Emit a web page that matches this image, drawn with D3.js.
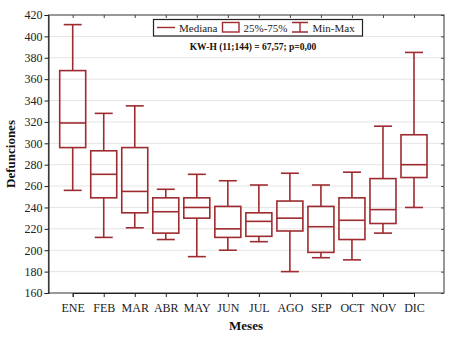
<!DOCTYPE html>
<html>
<head>
<meta charset="utf-8">
<script src="https://cdn.jsdelivr.net/npm/d3@7"></script>
<style>
  body { margin: 0; background: #fff; }
  svg, svg text { font-family: "Liberation Serif", "DejaVu Serif", serif; }
</style>
</head>
<body>
<div id="chart"></div>
<script>
const months = ['ENE', 'FEB', 'MAR', 'ABR', 'MAY', 'JUN', 'JUL', 'AGO', 'SEP', 'OCT', 'NOV', 'DIC'];
const minVals = [256, 212, 221, 210, 194, 200, 208, 180, 193, 191, 216, 240];
const q1Vals = [296, 249, 235, 216, 230, 212, 213, 218, 198, 210, 225, 268];
const medVals = [319, 271, 255, 236, 240, 220, 227, 230, 222, 228, 238, 280];
const q3Vals = [368, 293, 296, 249, 249, 241, 235, 246, 241, 249, 267, 308];
const maxVals = [411, 328, 335, 257, 271, 265, 261, 272, 261, 273, 316, 385];
const yTicks = d3.range(160, 421, 20);

const width = 450;
const height = 337;
const margin = { top: 15, right: 6, bottom: 44, left: 48.5 };
const red = '#9e2b2f';
const serif = '"Liberation Serif", "DejaVu Serif", serif';

const data = months.map((m, i) => ({
    month: m, min: minVals[i], q1: q1Vals[i], med: medVals[i], q3: q3Vals[i], max: maxVals[i],
}));

const svg = d3.select('#chart').append('svg')
    .attr('width', width)
    .attr('height', height)
    .attr('font-family', serif);

const x0 = margin.left;
const x1 = width - margin.right;
const y0 = margin.top;
const y1 = height - margin.bottom;

const x = d3.scalePoint(months, [72.7, 414]);
const y = d3.scaleLinear().domain([160, 420]).range([y1, y0]);

// grid
svg.append('g')
    .selectAll('line')
    .data(yTicks.slice(1, -1))
    .join('line')
    .attr('x1', x0).attr('x2', x1)
    .attr('y1', d => y(d)).attr('y2', d => y(d))
    .attr('stroke', '#c8c8c8')
    .attr('stroke-dasharray', '1,1');

// frame
svg.append('rect')
    .attr('x', x0).attr('y', y0)
    .attr('width', x1 - x0).attr('height', y1 - y0)
    .attr('fill', 'none')
    .attr('stroke', '#555')
    .attr('stroke-width', 1.2);

// axes
svg.append('g')
    .attr('transform', `translate(${x0},0)`)
    .call(d3.axisLeft(y).tickValues(yTicks).tickSize(4).tickPadding(2))
    .attr('font-family', serif)
    .call(g => g.select('.domain').attr('stroke', '#222'))
    .call(g => g.selectAll('text').attr('font-size', 12).attr('fill', '#222'))
    .call(g => g.selectAll('line').attr('stroke', '#222'));

svg.append('g')
    .attr('transform', `translate(${x1},0)`)
    .call(d3.axisLeft(y).tickValues(yTicks).tickSize(3).tickFormat(''))
    .call(g => g.select('.domain').remove())
    .call(g => g.selectAll('line').attr('stroke', '#444'));

svg.append('g')
    .attr('transform', `translate(0,${y1})`)
    .call(d3.axisBottom(x).tickSize(4).tickPadding(6))
    .attr('font-family', serif)
    .call(g => g.select('.domain').attr('stroke', '#222'))
    .call(g => g.selectAll('text').attr('font-size', 12).attr('fill', '#222'))
    .call(g => g.selectAll('line').attr('stroke', '#222'));

svg.append('g')
    .attr('transform', `translate(0,${y0})`)
    .call(d3.axisBottom(x).tickSize(3).tickFormat(''))
    .call(g => g.select('.domain').remove())
    .call(g => g.selectAll('line').attr('stroke', '#444'));

// boxes
const boxW = 26;
const capW = 18;
const boxes = svg.append('g')
    .attr('stroke', red)
    .attr('stroke-width', 1.6)
    .attr('fill', 'none')
    .selectAll('g')
    .data(data)
    .join('g')
    .attr('transform', d => `translate(${x(d.month)},0)`);

boxes.append('line')
    .attr('y1', d => y(d.max)).attr('y2', d => y(d.q3));
boxes.append('line')
    .attr('y1', d => y(d.q1)).attr('y2', d => y(d.min));
boxes.append('line')
    .attr('x1', -capW / 2).attr('x2', capW / 2)
    .attr('y1', d => y(d.max)).attr('y2', d => y(d.max));
boxes.append('line')
    .attr('x1', -capW / 2).attr('x2', capW / 2)
    .attr('y1', d => y(d.min)).attr('y2', d => y(d.min));
boxes.append('rect')
    .attr('x', -boxW / 2).attr('width', boxW)
    .attr('y', d => y(d.q3))
    .attr('height', d => y(d.q1) - y(d.q3));
boxes.append('line')
    .attr('x1', -boxW / 2).attr('x2', boxW / 2)
    .attr('y1', d => y(d.med)).attr('y2', d => y(d.med));

// legend
const legend = svg.append('g').attr('font-family', serif);
legend.append('rect')
    .attr('x', 153.5).attr('y', 19.5)
    .attr('width', 209).attr('height', 16.5)
    .attr('fill', '#fff')
    .attr('stroke', '#222')
    .attr('stroke-width', 1.2);
legend.append('line')
    .attr('x1', 157).attr('x2', 175).attr('y1', 27.5).attr('y2', 27.5)
    .attr('stroke', red).attr('stroke-width', 1.4);
legend.append('rect')
    .attr('x', 222.5).attr('y', 22.5).attr('width', 16.5).attr('height', 9.5)
    .attr('fill', 'none').attr('stroke', red).attr('stroke-width', 1.4);
legend.append('path')
    .attr('d', 'M292,22.5H308M300,22.5V32M292,32H308')
    .attr('fill', 'none').attr('stroke', red).attr('stroke-width', 1.4);
legend.selectAll('text')
    .data([['Mediana', 179], ['25%-75%', 243.5], ['Min-Max', 312.5]])
    .join('text')
    .attr('x', d => d[1]).attr('y', 31.5)
    .attr('font-size', 11)
    .attr('fill', '#222')
    .text(d => d[0]);

// statistic
const stat = svg.append('text')
    .attr('x', 253).attr('y', 50)
    .attr('text-anchor', 'middle')
    .attr('font-size', 9.5)
    .attr('fill', '#111');
stat.append('tspan').attr('font-weight', 'bold').text('KW-H');
stat.append('tspan').attr('font-weight', '600').text(' (11;144) = 67,57; p=0,00');

// axis titles
svg.append('text')
    .attr('transform', `translate(15,${(y0 + y1) / 2}) rotate(-90)`)
    .attr('text-anchor', 'middle')
    .attr('font-size', 13)
    .attr('font-weight', 'bold')
    .attr('fill', '#111')
    .text('Defunciones');

svg.append('text')
    .attr('x', 246).attr('y', 330)
    .attr('text-anchor', 'middle')
    .attr('font-size', 13)
    .attr('font-weight', 'bold')
    .attr('fill', '#111')
    .text('Meses');
</script>
</body>
</html>
